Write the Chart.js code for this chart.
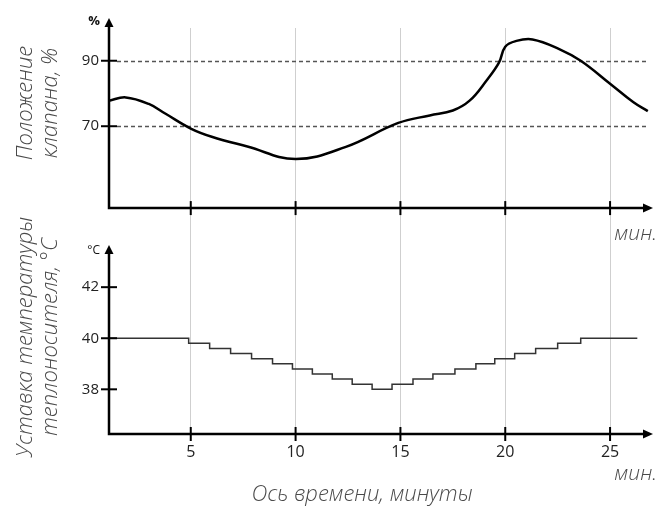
<!DOCTYPE html>
<html>
<head>
<meta charset="utf-8">
<script src="https://cdn.jsdelivr.net/npm/chart.js@4/dist/chart.umd.min.js"></script>
<style>
  html, body { margin: 0; padding: 0; background: #fff; }
</style>
</head>
<body>
<canvas id="grafico" width="670" height="507"></canvas>
<script>
// ось времени, мин
var xTicks = [5, 10, 15, 20, 25];

// положение клапана, %
var tempoKlapan = [1.1, 1.9, 3.0, 3.8, 5.0, 6.0, 7.7, 10.0, 12.4, 14.9, 16.4, 17.5, 18.3, 19.1, 19.7, 20.0, 20.5, 21.3, 22.6, 23.6, 25.0, 26.1, 26.8];
var klapan = [77.8, 78.8, 76.8, 73.8, 69.3, 66.8, 63.8, 60.0, 63.7, 71.0, 73.3, 74.8, 77.8, 83.9, 89.4, 94.3, 96.0, 96.5, 93.5, 90.0, 83.0, 77.4, 74.6];
var linhasKlapan = [70, 90];
var ticksKlapan = [70, 90];
var baseKlapan = 45;

// уставка температуры теплоносителя, °C (ступеньки)
var tempoUstavka = [1.1, 4.9, 5.9, 6.9, 7.9, 8.9, 9.85, 10.8, 11.75, 12.7, 13.65, 14.6, 15.6, 16.55, 17.6, 18.6, 19.5, 20.45, 21.45, 22.5, 23.6, 26.3];
var ustavka = [40, 39.8, 39.6, 39.4, 39.2, 39.0, 38.8, 38.6, 38.4, 38.2, 38.0, 38.2, 38.4, 38.6, 38.8, 39.0, 39.2, 39.4, 39.6, 39.8, 40.0, 40.0];
var ticksUstavka = [38, 40, 42];

var fonteTitulo = '"Open Sans", "DejaVu Sans", sans-serif';
var fonteNum = '"Open Sans", "DejaVu Sans", sans-serif';

function seta(ctx, x, y, dir) {
  ctx.beginPath();
  if (dir == 'up') {
    ctx.moveTo(x, y); ctx.lineTo(x - 4.5, y + 9); ctx.lineTo(x + 4.5, y + 9);
  } else {
    ctx.moveTo(x, y); ctx.lineTo(x - 10, y - 4.5); ctx.lineTo(x - 10, y + 4.5);
  }
  ctx.closePath();
  ctx.fill();
}

var eixos = {
  id: 'eixos',
  beforeDatasetsDraw(chart) {
    var ctx = chart.ctx, x = chart.scales.x, y1 = chart.scales.y1;
    ctx.save();
    ctx.strokeStyle = '#555';
    ctx.lineWidth = 1.5;
    ctx.setLineDash([4, 3]);
    linhasKlapan.forEach(function (v) {
      var py = Math.round(y1.getPixelForValue(v)) + 0.5;
      ctx.beginPath();
      ctx.moveTo(x.left + 8, py);
      ctx.lineTo(x.right - 3, py);
      ctx.stroke();
    });
    ctx.restore();
  },
  afterDatasetsDraw(chart) {
    var ctx = chart.ctx, x = chart.scales.x, y1 = chart.scales.y1, y2 = chart.scales.y2;
    var left = x.left, ponta = x.right + 1;
    var paineis = [
      [y1, y1.getPixelForValue(baseKlapan), chart.chartArea.top - 10, ticksKlapan],
      [y2, y2.bottom, y2.top + 14, ticksUstavka]
    ];
    ctx.save();
    ctx.strokeStyle = '#000';
    ctx.fillStyle = '#000';
    paineis.forEach(function (p) {
      var esc = p[0], base = p[1], topo = p[2];
      ctx.lineWidth = 2.5;
      ctx.beginPath();
      ctx.moveTo(left, topo + 8);
      ctx.lineTo(left, base);
      ctx.lineTo(ponta - 9, base);
      ctx.stroke();
      seta(ctx, left, topo, 'up');
      seta(ctx, ponta, base, 'right');
      ctx.lineWidth = 2;
      xTicks.forEach(function (v) {
        var px = x.getPixelForValue(v);
        ctx.beginPath(); ctx.moveTo(px, base - 7); ctx.lineTo(px, base + 7); ctx.stroke();
      });
      p[3].forEach(function (v) {
        var py = esc.getPixelForValue(v);
        ctx.beginPath(); ctx.moveTo(left - 8, py); ctx.lineTo(left + 8, py); ctx.stroke();
      });
    });
    ctx.restore();
  },
  afterDraw(chart) {
    var ctx = chart.ctx, area = chart.chartArea, y2 = chart.scales.y2;
    ctx.save();
    ctx.fillStyle = '#111';
    ctx.textAlign = 'right';
    ctx.textBaseline = 'middle';
    ctx.font = 'bold 13px ' + fonteNum;
    ctx.fillText('%', area.left - 9, area.top - 7);
    ctx.font = '12px ' + fonteNum;
    ctx.fillText('°C', area.left - 9, y2.top + 20);

    ctx.fillStyle = '#4a4a4a';
    ctx.font = 'italic 300 21px ' + fonteTitulo;
    ctx.fillText('мин.', area.right + 5, y2.top + 3);
    ctx.fillText('мин.', area.right + 5, area.bottom + 40);

    ctx.textAlign = 'center';
    ctx.font = 'italic 300 22px ' + fonteTitulo;
    ctx.fillText('Ось времени, минуты', 362, area.bottom + 61);

    ctx.textBaseline = 'alphabetic';
    [[area.top + 75, 'Положение', 'клапана, %'], [y2.top + 106, 'Уставка температуры', 'теплоносителя, °C']].forEach(function (t) {
      ctx.save();
      ctx.translate(0, t[0]);
      ctx.rotate(-Math.PI / 2);
      ctx.fillText(t[1], 0, 32);
      ctx.fillText(t[2], 0, 57);
      ctx.restore();
    });
    ctx.restore();
  }
};

var ctx = document.getElementById('grafico').getContext('2d');
var grafico = new Chart(ctx, {
  type: 'line',
  data: {
    datasets: [{
      data: tempoKlapan.map(function (t, i) { return { x: t, y: klapan[i] }; }),
      yAxisID: 'y1',
      borderColor: '#000',
      borderWidth: 2.5,
      pointRadius: 0,
      tension: 0.4,
      fill: false
    }, {
      data: tempoUstavka.map(function (t, i) { return { x: t, y: ustavka[i] }; }),
      yAxisID: 'y2',
      borderColor: '#333',
      borderWidth: 1.5,
      pointRadius: 0,
      stepped: 'before',
      fill: false
    }]
  },
  options: {
    responsive: false,
    animation: false,
    devicePixelRatio: 1,
    layout: { padding: { top: 28, right: 18, left: 0, bottom: 0 } },
    plugins: { legend: { display: false }, tooltip: { enabled: false } },
    scales: {
      x: {
        type: 'linear',
        min: 1.1,
        max: 27,
        afterBuildTicks: function (s) { s.ticks = xTicks.map(function (v) { return { value: v }; }); },
        afterFit: function (s) { s.height = 73; },
        grid: { color: '#cfcfcf', lineWidth: 1, drawTicks: false },
        border: { display: false },
        ticks: { padding: 9, color: '#222', font: { family: fonteNum, size: 16 } }
      },
      y1: {
        type: 'linear',
        position: 'left',
        stack: 'painel',
        stackWeight: 1,
        weight: 1,
        min: 38,
        max: 100,
        afterBuildTicks: function (s) { s.ticks = ticksKlapan.map(function (v) { return { value: v }; }); },
        afterFit: function (s) { s.width = 109; },
        grid: { display: false, drawTicks: false },
        border: { display: false },
        ticks: { padding: 10, color: '#222', font: { family: fonteNum, size: 15 } }
      },
      y2: {
        type: 'linear',
        position: 'left',
        stack: 'painel',
        stackWeight: 1,
        weight: 0,
        min: 36.25,
        max: 44.2,
        afterBuildTicks: function (s) { s.ticks = ticksUstavka.map(function (v) { return { value: v }; }); },
        afterFit: function (s) { s.width = 109; },
        grid: { display: false, drawTicks: false },
        border: { display: false },
        ticks: { padding: 10, color: '#222', font: { family: fonteNum, size: 15 } }
      }
    }
  },
  plugins: [eixos]
});
</script>
</body>
</html>
